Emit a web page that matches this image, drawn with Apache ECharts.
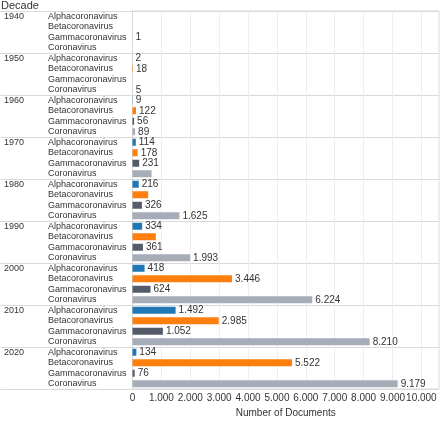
<!DOCTYPE html>
<html><head><meta charset="utf-8">
<script src="https://cdn.jsdelivr.net/npm/echarts@6/dist/echarts.min.js"></script>
<style>html,body{margin:0;padding:0;background:#fff}#c{width:440px;height:423px}</style>
</head><body><div id="c"></div>
<script>
const decades = ['1940','1950','1960','1970','1980','1990','2000','2010','2020'];
const genera = ['Alphacoronavirus','Betacoronavirus','Gammacoronavirus','Coronavirus'];
const alpha  = [null, 2,   9, 114,  216,  334,  418, 1492,  134];
const beta   = [null, 18, 122, 178,  543,  808, 3446, 2985, 5522];
const gamma  = [1,   null, 56, 231,  326,  361,  624, 1052,   76];
const corona = [null, 5,   89, 659, 1625, 1993, 6224, 8210, 9179];
const xTicks = [0,1000,2000,3000,4000,5000,6000,7000,8000,9000,10000];
const hiddenLabels = ['1970|Coronavirus','1980|Betacoronavirus','1990|Betacoronavirus'];
const colors = ['#1f77b4','#ff7f0e','#555c69','#a6adb9'];

const fmt = v => String(v).replace(/\B(?=(\d{3})+(?!\d))/g, '.');
const series4 = [alpha, beta, gamma, corona];
const cats = [];
const items = [];
decades.forEach((d, di) => {
  genera.forEach((g, gi) => {
    const key = d + '|' + g;
    cats.push(key);
    const v = series4[gi][di];
    items.push({
      value: v,
      itemStyle: {color: colors[gi]},
      label: {show: v != null && hiddenLabels.indexOf(key) < 0}
    });
  });
});
const FONT = '"Liberation Sans", Arial, sans-serif';
const chart = echarts.init(document.getElementById('c'), null, {renderer: 'canvas'});
const yCommon = {
  type: 'category', data: cats, inverse: true, position: 'left'
};
chart.setOption({
  animation: false,
  title: {text: 'Decade', left: 1, top: 0, padding: 0, textStyle: {fontSize: 11, fontWeight: 'normal', color: '#333', fontFamily: FONT}},
  grid: {left: 132.5, right: 1, top: 11, height: 378, show: true, borderColor: '#d9d9d9', borderWidth: 1, containLabel: false, outerBoundsMode: 'none'},
  xAxis: {
    type: 'value', min: 0, max: 10610,
    axisLine: {show: false},
    axisTick: {show: false, customValues: xTicks},
    axisLabel: {customValues: xTicks, formatter: v => fmt(v), fontSize: 10, color: '#333', fontFamily: FONT, margin: 4},
    splitLine: {show: true, lineStyle: {color: '#eeeeee', width: 1}},
    name: 'Number of Documents', nameLocation: 'middle', nameGap: 19,
    nameTextStyle: {fontSize: 10, color: '#333', fontFamily: FONT}
  },
  yAxis: [Object.assign({}, yCommon, {
    axisLine: {show: true, lineStyle: {color: '#d9d9d9'}},
    axisTick: {show: true, interval: i => i % 4 === 0, length: 132, lineStyle: {color: '#d9d9d9'}},
    splitLine: {show: true, interval: i => i % 4 === 0, lineStyle: {color: '#d9d9d9'}},
    axisLabel: {
      interval: 0, align: 'left', verticalAlign: 'middle', margin: 84.5,
      fontSize: 9, color: '#333', fontFamily: FONT,
      formatter: (val) => val.split('|')[1]
    }
  }), Object.assign({}, yCommon, {
    axisLine: {show: false}, axisTick: {show: false}, splitLine: {show: false},
    axisLabel: {
      interval: i => i % 4 === 0, align: 'left', verticalAlign: 'middle', margin: 128.5,
      fontSize: 9, color: '#333', fontFamily: FONT,
      formatter: (val) => val.split('|')[0]
    }
  })],
  series: [{
    type: 'bar', data: items, barWidth: 7,
    label: {position: 'right', distance: 3, fontSize: 10, color: '#333', fontFamily: FONT, formatter: p => fmt(p.value)}
  }]
});
</script></body></html>
